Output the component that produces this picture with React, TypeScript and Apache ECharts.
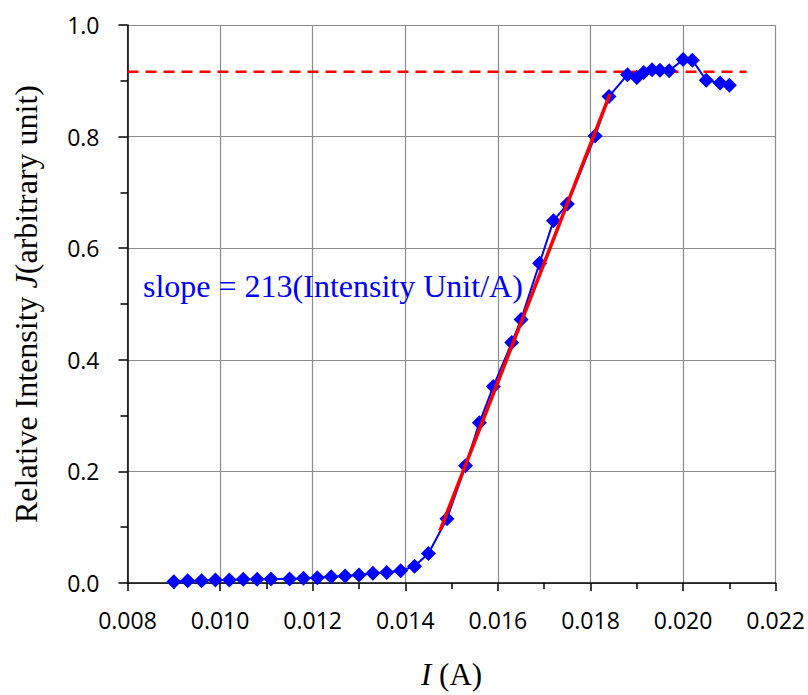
import React, { useEffect, useRef } from "react";
import * as echarts from "echarts";

// Measured data: current I (A) and relative intensity J
const currentA: number[] = [
  0.0090, 0.0093, 0.0096, 0.0099, 0.0102, 0.0105, 0.0108, 0.0111,
  0.0115, 0.0118, 0.0121, 0.0124, 0.0127, 0.0130, 0.0133, 0.0136,
  0.0139, 0.0142, 0.0145, 0.0149, 0.0153, 0.0156, 0.0159, 0.0163,
  0.0165, 0.0169, 0.0172, 0.0175, 0.0181, 0.0184, 0.0188, 0.0190,
  0.01915, 0.01933, 0.0195, 0.0197, 0.0200, 0.0202, 0.0205, 0.0208, 0.0210,
];
const intensity: number[] = [
  0.0024, 0.0042, 0.0042, 0.0054, 0.0054, 0.0066, 0.0066, 0.0072,
  0.0072, 0.0084, 0.0096, 0.0114, 0.0125, 0.0143, 0.0173, 0.019,
  0.022, 0.030, 0.053, 0.115, 0.210, 0.287, 0.352, 0.431,
  0.472, 0.573, 0.649, 0.679, 0.801, 0.872, 0.911, 0.906,
  0.915, 0.920, 0.919, 0.918, 0.938, 0.937, 0.901, 0.896, 0.892,
];

// Linear fit segment (slope ≈ 213)
const fitX: number[] = [0.01475, 0.01842];
const fitY: number[] = [0.094, 0.876];

// Saturation level (dashed line)
const satX: number[] = [0.008, 0.02137];
const satLevel = 0.916;

const annotation = "slope = 213(Intensity Unit/A)";

export default function App() {
  const ref = useRef<HTMLDivElement>(null);
  useEffect(() => {
    if (!ref.current) return;
    const chart = echarts.init(ref.current, undefined, { renderer: "svg" });
    const tickFont = { fontFamily: "Open Sans", fontSize: 23, color: "#000" };
    chart.setOption({
      animation: false,
      backgroundColor: "#fff",
      grid: { left: 127.5, right: 31, top: 25, bottom: 112, containLabel: false },
      xAxis: {
        type: "value",
        min: 0.008,
        max: 0.022,
        interval: 0.002,
        name: "{i|I} (A)",
        nameLocation: "middle",
        nameGap: 76,
        nameTextStyle: {
          fontFamily: "Liberation Serif",
          fontSize: 31,
          color: "#000",
          rich: {
            i: { fontFamily: "Liberation Serif", fontSize: 31, fontStyle: "italic", color: "#000" },
          },
        },
        axisLine: { show: true, onZero: false, lineStyle: { color: "#000", width: 1.5 } },
        axisTick: { show: true, inside: false, length: 8, lineStyle: { color: "#000", width: 1.5 } },
        minorTick: { show: true, splitNumber: 2, length: 6, lineStyle: { color: "#000", width: 1.5 } },
        axisLabel: { ...tickFont, margin: 25, formatter: (v: number) => v.toFixed(3) },
        splitLine: { show: true, lineStyle: { color: "#8c8c8c", width: 1.2 } },
      },
      yAxis: {
        type: "value",
        min: 0,
        max: 1,
        interval: 0.2,
        name: "Relative Intensity {i|J}(arbitrary unit)",
        nameLocation: "middle",
        nameGap: 86,
        nameTextStyle: {
          fontFamily: "Liberation Serif",
          fontSize: 32,
          color: "#000",
          rich: {
            i: { fontFamily: "Liberation Serif", fontSize: 32, fontStyle: "italic", color: "#000" },
          },
        },
        axisLine: { show: true, lineStyle: { color: "#000", width: 1.5 } },
        axisTick: { show: true, inside: false, length: 9, lineStyle: { color: "#000", width: 1.5 } },
        minorTick: { show: true, splitNumber: 2, length: 7, lineStyle: { color: "#000", width: 1.5 } },
        axisLabel: { ...tickFont, margin: 28, formatter: (v: number) => v.toFixed(1) },
        splitLine: { show: true, lineStyle: { color: "#8c8c8c", width: 1.2 } },
      },
      series: [
        {
          type: "line",
          data: satX.map((x) => [x, satLevel]),
          showSymbol: false,
          symbol: "none",
          lineStyle: { color: "#ff0000", width: 2.5, type: [11, 7] },
          z: 3,
        },
        {
          type: "line",
          data: currentA.map((x, i) => [x, intensity[i]]),
          symbol: "diamond",
          symbolSize: 15,
          itemStyle: { color: "#0000ff" },
          lineStyle: { color: "#0000ff", width: 2 },
          z: 4,
        },
        {
          type: "line",
          data: fitX.map((x, i) => [x, fitY[i]]),
          symbol: "none",
          lineStyle: { color: "#ff0000", width: 3.5 },
          z: 5,
        },
      ],
      graphic: [
        {
          type: "text",
          left: 143,
          top: 270,
          style: {
            text: annotation,
            fontFamily: "Liberation Serif",
            fontSize: 32,
            fill: "#0000ff",
          },
          z: 10,
        },
      ],
    });
    return () => chart.dispose();
  }, []);
  return <div ref={ref} style={{ width: 808, height: 695, position: "absolute", left: 0, top: 0 }} />;
}
